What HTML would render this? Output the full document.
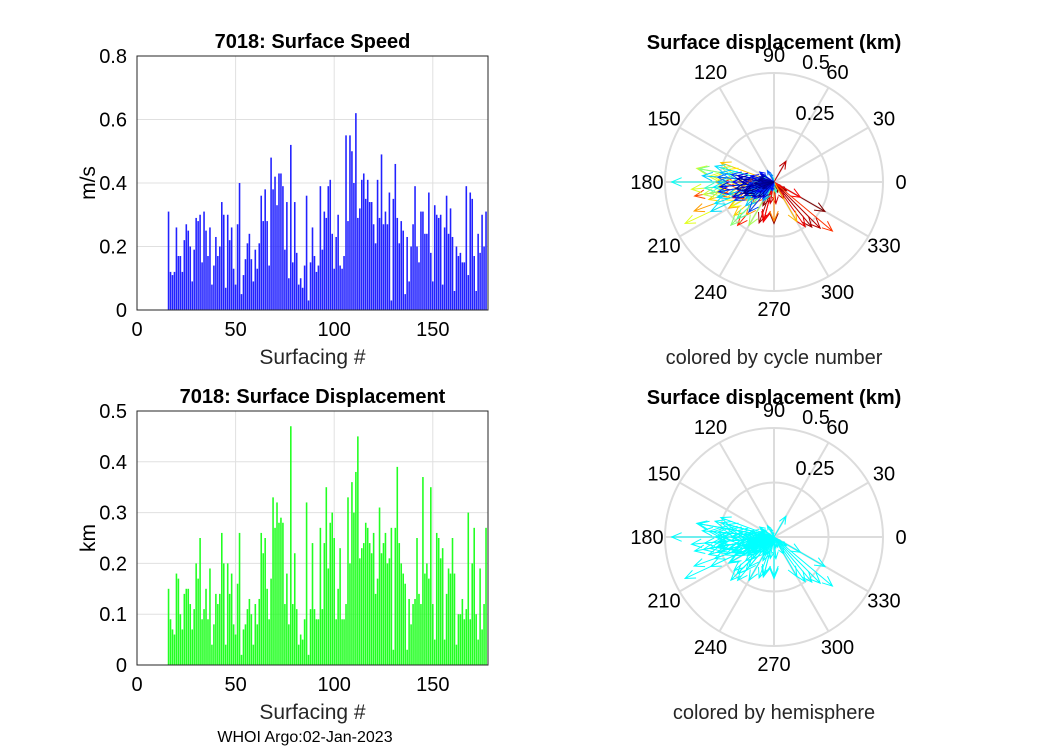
<!DOCTYPE html>
<html><head><meta charset="utf-8">
<style>
body{margin:0;background:#fff;}
svg{display:block;font-family:"Liberation Sans",sans-serif;}
</style></head>
<body>
<svg id="fig" width="1050" height="750" viewBox="0 0 1050 750" xmlns="http://www.w3.org/2000/svg">
<rect width="1050" height="750" fill="#fff"/>
<g id="g1"></g>
<g id="g2"></g>
<g id="g3"></g>
<g id="g4"></g>
<text x="305" y="742" font-size="16" text-anchor="middle" fill="#000">WHOI Argo:02-Jan-2023</text>
</svg>
<script>
const startCycle = 16;
const speedValues = [0.31,0.12,0.11,0.12,0.26,0.17,0.17,0.12,0.22,0.27,0.25,0.20,0.09,0.19,0.29,0.28,0.30,0.15,0.31,0.25,0.17,0.26,0.08,0.14,0.23,0.17,0.20,0.34,0.30,0.07,0.30,0.22,0.26,0.13,0.08,0.27,0.40,0.05,0.11,0.16,0.21,0.24,0.16,0.09,0.19,0.13,0.21,0.36,0.28,0.38,0.28,0.14,0.48,0.38,0.42,0.33,0.43,0.43,0.39,0.19,0.34,0.10,0.52,0.15,0.34,0.18,0.08,0.10,0.07,0.14,0.36,0.03,0.15,0.26,0.17,0.12,0.14,
0.39,0.19,0.31,0.29,0.39,0.41,0.24,0.13,0.23,0.30,0.14,0.13,0.17,0.55,0.28,0.55,0.50,0.40,0.62,0.29,0.32,0.41,0.43,0.35,0.41,0.34,0.34,0.27,0.21,0.41,0.29,0.49,0.27,0.31,0.27,0.37,0.03,0.35,0.46,0.29,0.21,0.28,0.25,0.05,0.23,0.09,0.20,0.27,0.39,0.20,0.15,0.31,0.31,0.24,0.24,0.37,0.18,0.09,0.33,0.30,0.29,0.30,0.08,0.26,0.36,0.24,0.32,0.23,0.06,0.20,0.17,0.18,0.15,0.15,0.39,0.11,0.37,0.35,0.17,0.06,0.24,0.18,0.30,0.20,0.31];
const dispValues = [0.15,0.09,0.07,0.06,0.18,0.17,0.10,0.07,0.14,0.15,0.15,0.12,0.07,0.11,0.20,0.17,0.25,0.09,0.11,0.15,0.09,0.19,0.04,0.08,0.14,0.12,0.14,0.26,0.20,0.04,0.20,0.14,0.18,0.08,0.06,0.16,0.26,0.02,0.07,0.08,0.11,0.13,0.10,0.04,0.12,0.08,0.13,0.26,0.22,0.25,0.15,0.09,0.17,0.33,0.27,0.32,0.28,0.29,0.28,0.12,0.18,0.08,0.47,0.12,0.22,0.11,0.04,0.06,0.05,0.09,0.32,0.02,0.11,0.24,0.11,0.09,0.09,
0.27,0.11,0.24,0.35,0.19,0.28,0.30,0.25,0.09,0.15,0.23,0.09,0.09,0.12,0.33,0.20,0.36,0.30,0.38,0.45,0.21,0.23,0.24,0.28,0.27,0.24,0.22,0.26,0.14,0.17,0.31,0.22,0.24,0.26,0.20,0.21,0.27,0.03,0.27,0.39,0.24,0.20,0.18,0.16,0.03,0.13,0.08,0.12,0.13,0.25,0.14,0.12,0.37,0.18,0.20,0.17,0.35,0.12,0.05,0.26,0.25,0.21,0.23,0.05,0.14,0.19,0.18,0.25,0.18,0.04,0.10,0.10,0.13,0.09,0.11,0.30,0.09,0.20,0.27,0.10,0.05,0.19,0.07,0.12,0.27];
const dispDirections = [200,185,170,210,190,175,225,160,195,205,180,215,150,190,200,170,185,235,165,200,210,180,250,145,195,220,175,190,205,260,170,200,230,185,120,195,175,270,160,215,200,190,240,110,185,225,200,180,195,170,210,190,220,175,195,205,165,200,185,215,190,230,180,205,170,195,260,150,280,200,185,100,215,225,190,175,245,
195,210,180,170,200,225,190,165,205,215,240,185,175,200,190,180,170,175,185,205,195,210,225,175,190,200,165,185,210,180,195,175,220,160,205,300,190,215,180,200,210,230,270,190,150,200,185,175,215,195,225,175,190,205,185,210,320,195,170,230,190,200,180,205,330,255,255,305,195,325,275,260,180,300,60,315,200,250,310,190,290,270,325,245,330,60];
const speedTicks = [0,0.2,0.4,0.6,0.8];
const dispTicks = [0,0.1,0.2,0.3,0.4,0.5];
const xTicks = [0,50,100,150];
const polarAngles = [0,30,60,90,120,150,180,210,240,270,300,330];

const NS='http://www.w3.org/2000/svg';
function mk(parent,tag,attrs,text){const e=document.createElementNS(NS,tag);for(const k in attrs)e.setAttribute(k,attrs[k]);if(text!==undefined)e.textContent=text;parent.appendChild(e);return e;}

function barChart(g,ax,values,ticks,ymax,color,title,ylab){
  const xs=v=>ax.x0+(v/178)*(ax.x1-ax.x0);
  const ys=v=>ax.y1-(v/ymax)*(ax.y1-ax.y0);
  for(const t of ticks){const y=ys(t);
    const gl=mk(g,'line',{x1:ax.x0,x2:ax.x1,y1:y,y2:y,stroke:'#e0e0e0','stroke-width':1});
    
    
    const tl=mk(g,'text',{x:ax.x0-10,y:y+7,'font-size':20,'text-anchor':'end'},String(t));
    
    }
  for(const t of xTicks){const x=xs(t);
    const gl=mk(g,'line',{x1:x,x2:x,y1:ax.y0,y2:ax.y1,stroke:'#e0e0e0','stroke-width':1});
    
    
    const tl=mk(g,'text',{x:x,y:ax.y1+26,'font-size':20,'text-anchor':'middle'},String(t));
    
    }
  values.forEach((v,i)=>{const c=startCycle+i;const w=(xs(1)-xs(0))*0.8;
    const b=mk(g,'rect',{x:xs(c)-w/2,y:ys(v),width:w,height:ys(0)-ys(v),fill:color});
    
    });
  const fr=mk(g,'rect',{x:ax.x0,y:ax.y0,width:ax.x1-ax.x0,height:ax.y1-ax.y0,fill:'none',stroke:'#262626','stroke-width':1});
  
  
  const tt=mk(g,'text',{x:(ax.x0+ax.x1)/2,y:ax.y0-8,'font-size':20,'font-weight':'bold','text-anchor':'middle'},title);
  
  
  const xl=mk(g,'text',{x:(ax.x0+ax.x1)/2,y:ax.y1+54,'font-size':21,'text-anchor':'middle',fill:'#262626'},'Surfacing #');
  
  
  const yl=mk(g,'text',{x:0,y:0,'font-size':21,'text-anchor':'middle',transform:`translate(95,${(ax.y0+ax.y1)/2}) rotate(-90)`},ylab);
  
  
}
barChart(document.getElementById('g1'),{x0:137,x1:488,y0:56,y1:310},speedValues,speedTicks,0.8,'#2222ff','7018: Surface Speed','m/s');
barChart(document.getElementById('g2'),{x0:137,x1:488,y0:411,y1:665},dispValues,dispTicks,0.5,'#22ff22','7018: Surface Displacement','km');

function jet(t){const r=Math.min(Math.max(Math.min(4*t-1.5,-4*t+4.5),0),1);const g=Math.min(Math.max(Math.min(4*t-0.5,-4*t+3.5),0),1);const b=Math.min(Math.max(Math.min(4*t+0.5,-4*t+2.5),0),1);return `rgb(${Math.round(r*255)},${Math.round(g*255)},${Math.round(b*255)})`;}

function polar(g,cx,cy,colorFn,caption){
  const R=109, rs=v=>v/0.5*R;
  for(const a of polarAngles){const rad=a*Math.PI/180;
    const sp=mk(g,'line',{x1:cx,y1:cy,x2:cx+R*Math.cos(rad),y2:cy-R*Math.sin(rad),stroke:'#dcdcdc','stroke-width':2});
    
    
    const lab=mk(g,'text',{x:cx+127*Math.cos(rad),y:cy-127*Math.sin(rad)+7,'font-size':20,'text-anchor':'middle'},String(a));
    
    }
  for(const r of [0.25,0.5]){const c=mk(g,'circle',{cx:cx,cy:cy,r:rs(r),fill:'none',stroke:'#dcdcdc','stroke-width':2});
    
    }
  const l1=mk(g,'text',{x:cx+42,y:cy-113,'font-size':20,'text-anchor':'middle'},'0.5');
  
  
  const l2=mk(g,'text',{x:cx+41,y:cy-62,'font-size':20,'text-anchor':'middle'},'0.25');
  
  
  const n=dispValues.length;
  for(let i=n-1;i>=0;i--){const v=dispValues[i];const a=dispDirections[i]*Math.PI/180;const L=rs(v);
    const ex=cx+L*Math.cos(a), ey=cy-L*Math.sin(a);const col=colorFn(i/(n-1));
    const hl=Math.min(11,L*0.35);
    const p1x=ex-hl*Math.cos(a-0.4), p1y=ey+hl*Math.sin(a-0.4);
    const p2x=ex-hl*Math.cos(a+0.4), p2y=ey+hl*Math.sin(a+0.4);
    const ar=mk(g,'path',{d:`M${cx},${cy}L${ex},${ey}M${p1x},${p1y}L${ex},${ey}L${p2x},${p2y}`,stroke:col,'stroke-width':1,fill:'none'});
    
    }
  const t=mk(g,'text',{x:cx,y:cy-133,'font-size':20,'font-weight':'bold','text-anchor':'middle'},'Surface displacement (km)');
  
  
  const cp=mk(g,'text',{x:cx,y:cy+182,'font-size':20,'text-anchor':'middle',fill:'#262626'},caption);
  
  
}
polar(document.getElementById('g3'),774,182,t=>jet(t),'colored by cycle number');
polar(document.getElementById('g4'),774,537,t=>'#00ffff','colored by hemisphere');
</script>
</body></html>
